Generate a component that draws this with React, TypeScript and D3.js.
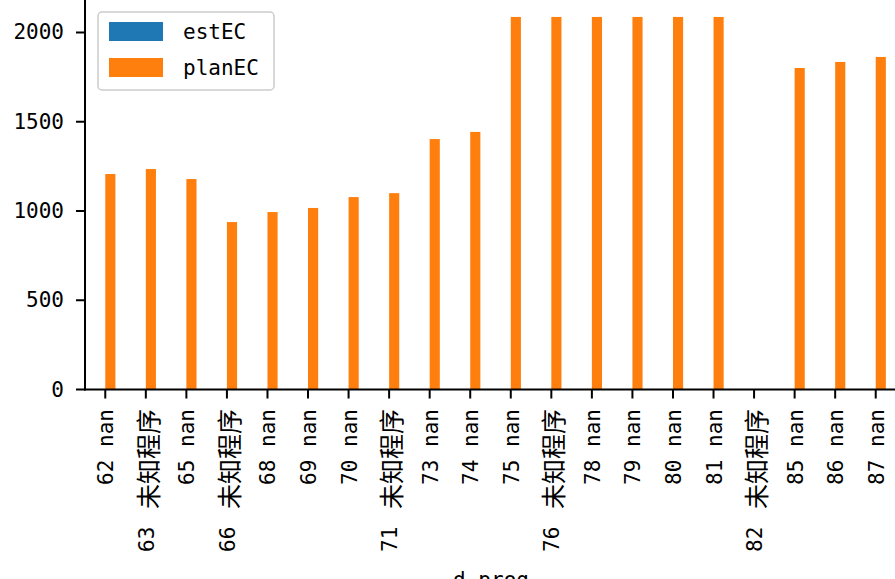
import React from "react";
import * as d3 from "d3";

const progIds = ["62", "63", "65", "66", "68", "69", "70", "71", "73", "74", "75", "76", "78", "79", "80", "81", "82", "85", "86", "87"];
const progNames = ["nan", "未知程序", "nan", "未知程序", "nan", "nan", "nan", "未知程序", "nan", "nan", "nan", "未知程序", "nan", "nan", "nan", "nan", "未知程序", "nan", "nan", "nan"];
const estEC: (number | null)[] = progIds.map(() => null);
const planEC: (number | null)[] = [1207, 1235, 1179, 938, 994, 1017, 1078, 1100, 1403, 1443, 2087, 2087, 2087, 2087, 2087, 2087, null, 1801, 1835, 1863];
const yTicks = [0, 500, 1000, 1500, 2000];
const seriesNames = ["estEC", "planEC"];
const seriesColors = ["#1f77b4", "#ff7f0e"];

const W = 895;
const H = 579;
const LATIN = "'DejaVu Sans Mono', 'Liberation Mono', monospace";
const CJK = "'Noto Sans CJK SC', sans-serif";

export default function App() {
  const x = d3.scaleLinear().domain([-0.5, progIds.length - 0.5]).range([85, 896]);
  const y = d3.scaleLinear().domain([0, 2182]).range([389.5, 0]);
  const bw = 0.25;
  const series = [estEC, planEC];
  return (
    <svg width={W} height={H} style={{ position: "absolute", left: 0, top: 0, background: "#fff" }}>
      <rect x={0} y={0} width={W} height={H} fill="#fff" />
      {series.map((vals, si) =>
        vals.map((v, i) =>
          v == null || v === 0 ? null : (
            <rect
              key={`${si}-${i}`}
              x={x(i + (si - 1) * bw)}
              y={y(v)}
              width={x(bw) - x(0)}
              height={y(0) - y(v)}
              fill={seriesColors[si]}
            />
          )
        )
      )}
      {/* spines */}
      <line x1={85} x2={85} y1={0} y2={390.5} stroke="#000" strokeWidth={2} />
      <line x1={84} x2={896} y1={389.5} y2={389.5} stroke="#000" strokeWidth={2} />
      {/* y ticks */}
      {yTicks.map((t) => (
        <g key={t}>
          <line x1={76} x2={85} y1={y(t)} y2={y(t)} stroke="#000" strokeWidth={2} />
          <text x={64} y={y(t)} textAnchor="end" dominantBaseline="central" fontFamily={LATIN} fontSize={21}>
            {t}
          </text>
        </g>
      ))}
      {/* x ticks */}
      {progIds.map((id, i) => (
        <g key={id}>
          <line x1={x(i)} x2={x(i)} y1={389.5} y2={398.5} stroke="#000" strokeWidth={2} />
          <text
            transform={`translate(${x(i) + 1},409) rotate(-90)`}
            textAnchor="end"
            dominantBaseline="central"
            fontFamily={LATIN}
            fontSize={21}
          >
            <tspan>{id + " "}</tspan>
            {progNames[i] === "nan" ? (
              <tspan>{progNames[i]}</tspan>
            ) : (
              <tspan dx={5} fontFamily={CJK} fontSize={25}>
                {progNames[i]}
              </tspan>
            )}
          </text>
        </g>
      ))}
      {/* x label */}
      <text x={491} y={587} textAnchor="middle" fontFamily={LATIN} fontSize={21}>
        d_prog
      </text>
      {/* legend */}
      <rect x={98} y={12} width={176} height={78} rx={4} fill="#fff" fillOpacity={0.8} stroke="#cccccc" strokeWidth={1.5} />
      {seriesNames.map((n, i) => (
        <g key={n}>
          <rect x={109} y={22 + i * 36} width={54} height={19} fill={seriesColors[i]} />
          <text x={183} y={32 + i * 36} dominantBaseline="central" fontFamily={LATIN} fontSize={21}>
            {n}
          </text>
        </g>
      ))}
    </svg>
  );
}
